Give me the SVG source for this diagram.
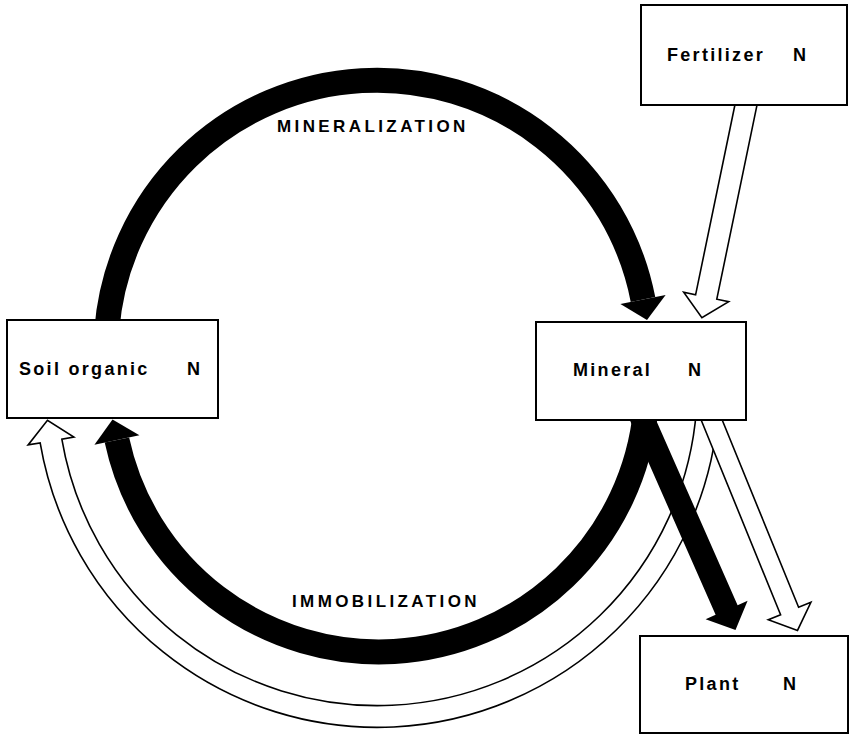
<svg xmlns="http://www.w3.org/2000/svg" width="849" height="735" viewBox="0 0 849 735">
<style>
  .box { fill: #fff; stroke: #000; stroke-width: 2; }
  .lbl { font-family: "Liberation Sans", Arial, sans-serif; font-weight: bold; font-size: 18px; letter-spacing: 2.3px; fill: #000; }
  .proc { font-family: "Liberation Sans", Arial, sans-serif; font-weight: bold; font-size: 17px; letter-spacing: 3.4px; fill: #000; }
  .thick { fill: none; stroke: #000; stroke-width: 25; }
  .solid { fill: #000; stroke: none; }
  .hollow { fill: #fff; stroke: #000; stroke-width: 1.6; stroke-linejoin: miter; }
</style>
<rect width="849" height="735" fill="#fff"/>
<g id="connectors">
  <!-- Mineralization (soil organic -> mineral) -->
  <path class="thick" d="M 106.8,330 A 271 271 0 0 1 643,299.5"/>
  <polygon class="solid" points="620.4,303.9 665.6,295.1 647,320.1"/>
  <!-- Immobilization (mineral -> soil organic) -->
  <path class="thick" d="M 645.7,410 A 268 268 0 0 1 116.92,440"/>
  <polygon class="solid" points="139.41,435.2 94.43,444.81 112.53,419.46"/>
  <!-- Hollow arc (mineral -> soil organic) -->
  <path class="hollow" d="M 696.4,410 A 320 320 0 0 1 61.84,439.15 L 73.87,437.1 L 47.47,420.3 L 28.13,444.9 L 40.16,442.85 A 342 342 0 0 0 718.4,410 Z"/>
  <!-- Mineral -> Plant (solid) -->
  <polygon class="solid" points="649.5,405.2 737.6,605.2 747.6,600.7 735.5,630.1 705.6,619.3 715.6,614.8 627.5,414.8"/>
  <!-- Mineral -> Plant (hollow) -->
  <polygon class="hollow" points="716.6,406.3 798.6,607.3 810.9,602.3 797.5,630.4 768.3,619.7 780.6,614.7 698.6,413.7"/>
  <!-- Fertilizer -> Mineral (hollow) -->
  <polygon class="hollow" points="757.6,102.2 716.8,299.2 728.7,301.7 701.9,317.6 683.7,292.3 695.6,294.8 736.4,97.8"/>
  <text class="proc" x="277" y="132">MINERALIZATION</text>
  <text class="proc" x="292" y="607">IMMOBILIZATION</text>
</g>
<g id="fertilizer">
  <rect class="box" x="641" y="5" width="206" height="100"/>
  <text class="lbl" y="61"><tspan x="667">Fertilizer</tspan><tspan x="793">N</tspan></text>
</g>
<g id="soil-organic">
  <rect class="box" x="7" y="320" width="211" height="98"/>
  <text class="lbl" y="375"><tspan x="19">Soil organic</tspan><tspan x="187">N</tspan></text>
</g>
<g id="mineral">
  <rect class="box" x="536" y="322" width="210" height="98"/>
  <text class="lbl" y="376"><tspan x="573">Mineral</tspan><tspan x="688">N</tspan></text>
</g>
<g id="plant">
  <rect class="box" x="640" y="636" width="208" height="97"/>
  <text class="lbl" y="690"><tspan x="685">Plant</tspan><tspan x="783">N</tspan></text>
</g>
</svg>
